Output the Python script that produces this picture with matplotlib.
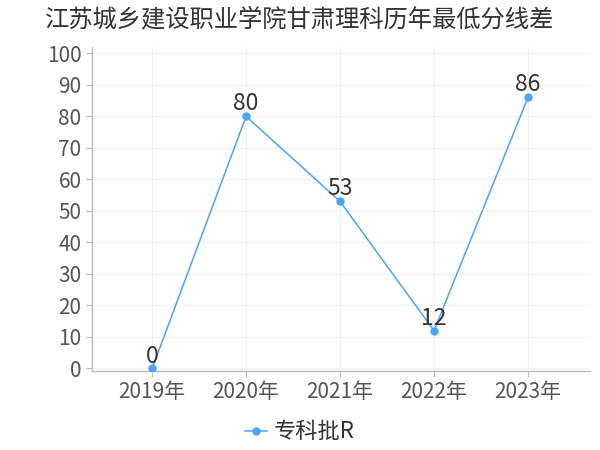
import matplotlib
matplotlib.use("Agg")
import matplotlib.pyplot as plt

plt.rcParams['font.family'] = ['Noto Sans CJK SC', 'DejaVu Sans']

# 数据
years = ["2019年", "2020年", "2021年", "2022年", "2023年"]
values = [0, 80, 53, 12, 86]
series_name = "专科批R"
title = "江苏城乡建设职业学院甘肃理科历年最低分线差"

line_color = "#4da3f5"
text_color = "#333333"
tick_color = "#555555"

fig = plt.figure(figsize=(6, 4.5), dpi=100)
ax = fig.add_axes([92/600, 1-371/450, 498/600, 324/450])

x = list(range(len(years)))
ax.plot(x, values, color=line_color, linewidth=1.1, marker="o", markersize=5,
        label=series_name, zorder=3)
for xi, v in zip(x, values):
    ax.text(xi, v + 0.3, str(v), ha="center", va="bottom", fontsize=16.5,
            color=text_color, zorder=4)

ax.set_xlim(-0.64, 4.66)
ax.set_ylim(-0.8, 102)
ax.set_yticks(range(0, 101, 10))
ax.set_xticks(x)
ax.set_xticklabels(years)
ax.tick_params(axis="y", labelsize=15, colors=tick_color, length=4, width=0.8)
ax.tick_params(axis="x", labelsize=15, colors=tick_color, length=4, width=0.8)
ax.tick_params(axis="both", color="#bbbbbb")
ax.grid(True, color="#f2f2f2", linewidth=0.8)
ax.set_axisbelow(True)
for s in ["top", "right"]:
    ax.spines[s].set_visible(False)
for s in ["left", "bottom"]:
    ax.spines[s].set_color("#bbbbbb")
    ax.spines[s].set_linewidth(1)

fig.text(0.5, 1-19/450, title, ha="center", va="center", fontsize=17.5,
         color=text_color)

leg = fig.legend(loc="center", bbox_to_anchor=(0.5, 1-432/450), frameon=False,
                 fontsize=16, handlelength=1.0, handletextpad=0.3, markerscale=1.0)
for t in leg.get_texts():
    t.set_color(text_color)

fig.savefig("out.png", dpi=100)
